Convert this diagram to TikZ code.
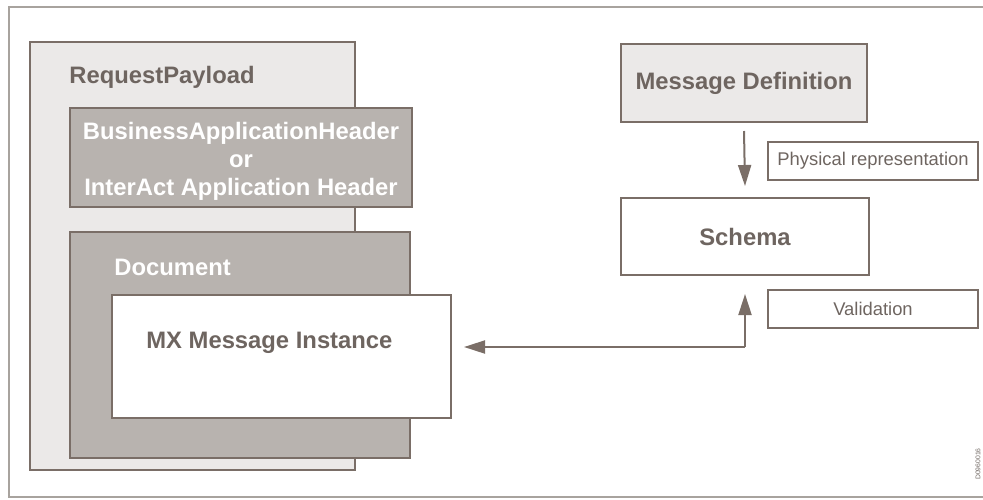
\documentclass[tikz,border=0pt]{standalone}
\usepackage{fontspec}
\setmainfont{Liberation Sans}
\usetikzlibrary{arrows.meta}
\definecolor{linec}{HTML}{7A6E67}
\definecolor{textc}{HTML}{6E6560}
\definecolor{lightc}{HTML}{EBE9E8}
\definecolor{midc}{HTML}{B8B3AF}
\definecolor{framec}{HTML}{A8A39E}
\begin{document}
\begin{tikzpicture}[x=0.5pt,y=-0.5pt,
    box/.style={draw=linec,line width=1pt,inner sep=0pt},
    lbl/.style={font=\fontsize{11.9}{14}\selectfont\bfseries,text=textc,inner sep=0pt},
    small/.style={font=\fontsize{9.2}{11}\selectfont,text=textc},
    arr/.style={draw=linec,line width=1pt,-{Triangle[length=10.5pt,width=6.5pt]}}]
        \useasboundingbox (0,0) rectangle (983,499);
        % frame
        \draw[framec,line width=0.75pt] (983,7) -- (9,7) -- (9,497) -- (983,497);

        % left side
        \node[box,fill=lightc,minimum width=162.5pt,minimum height=214pt] (payload) at (192.5,256) {};
        \node[lbl,anchor=west] (payloadlbl) at (69,77) {RequestPayload};
        \node[box,fill=midc,minimum width=171pt,minimum height=49.5pt] (header) at (241,157.5) {};
        \node[lbl,text=white,align=center] (headerlbl) at (241,161)
            {BusinessApplicationHeader\\or\\InterAct Application Header};
        \node[box,fill=midc,minimum width=170pt,minimum height=113pt] (doc) at (240,345) {};
        \node[lbl,text=white,anchor=west] (doclbl) at (114,267) {Document};
        \node[box,fill=white,minimum width=169.5pt,minimum height=61.5pt] (mx) at (281.5,356.5) {};
        \node[lbl,anchor=west] (mxlbl) at (146,343) {MX Message Instance};

        % right side
        \node[box,fill=lightc,minimum width=123pt,minimum height=39pt,lbl] (def) at (744,83) {Message Definition};
        \node[box,fill=white,minimum width=124pt,minimum height=38.5pt,lbl] (schema) at (745,236.5) {Schema};
        \node[box,small,minimum width=105pt,minimum height=19pt,inner sep=0pt] (phys) at (873,161) {Physical representation};
        \node[box,small,minimum width=105pt,minimum height=19pt,inner sep=0pt] (valid) at (873,309) {Validation};

        % arrows
        \draw[arr] ([yshift=-4pt]def.south) -- ([yshift=5.5pt]schema.north);
        \coordinate (bend) at (745,347);
        \draw[arr] (bend) -- ([yshift=-9pt]schema.south);
        \draw[arr] (bend) -- ([xshift=6pt]mx.east |- bend);

        \node[rotate=90,text=textc,font=\fontsize{3.4}{4}\selectfont,inner sep=0pt] (code) at (978,464) {D0960016};
\end{tikzpicture}
\end{document}
